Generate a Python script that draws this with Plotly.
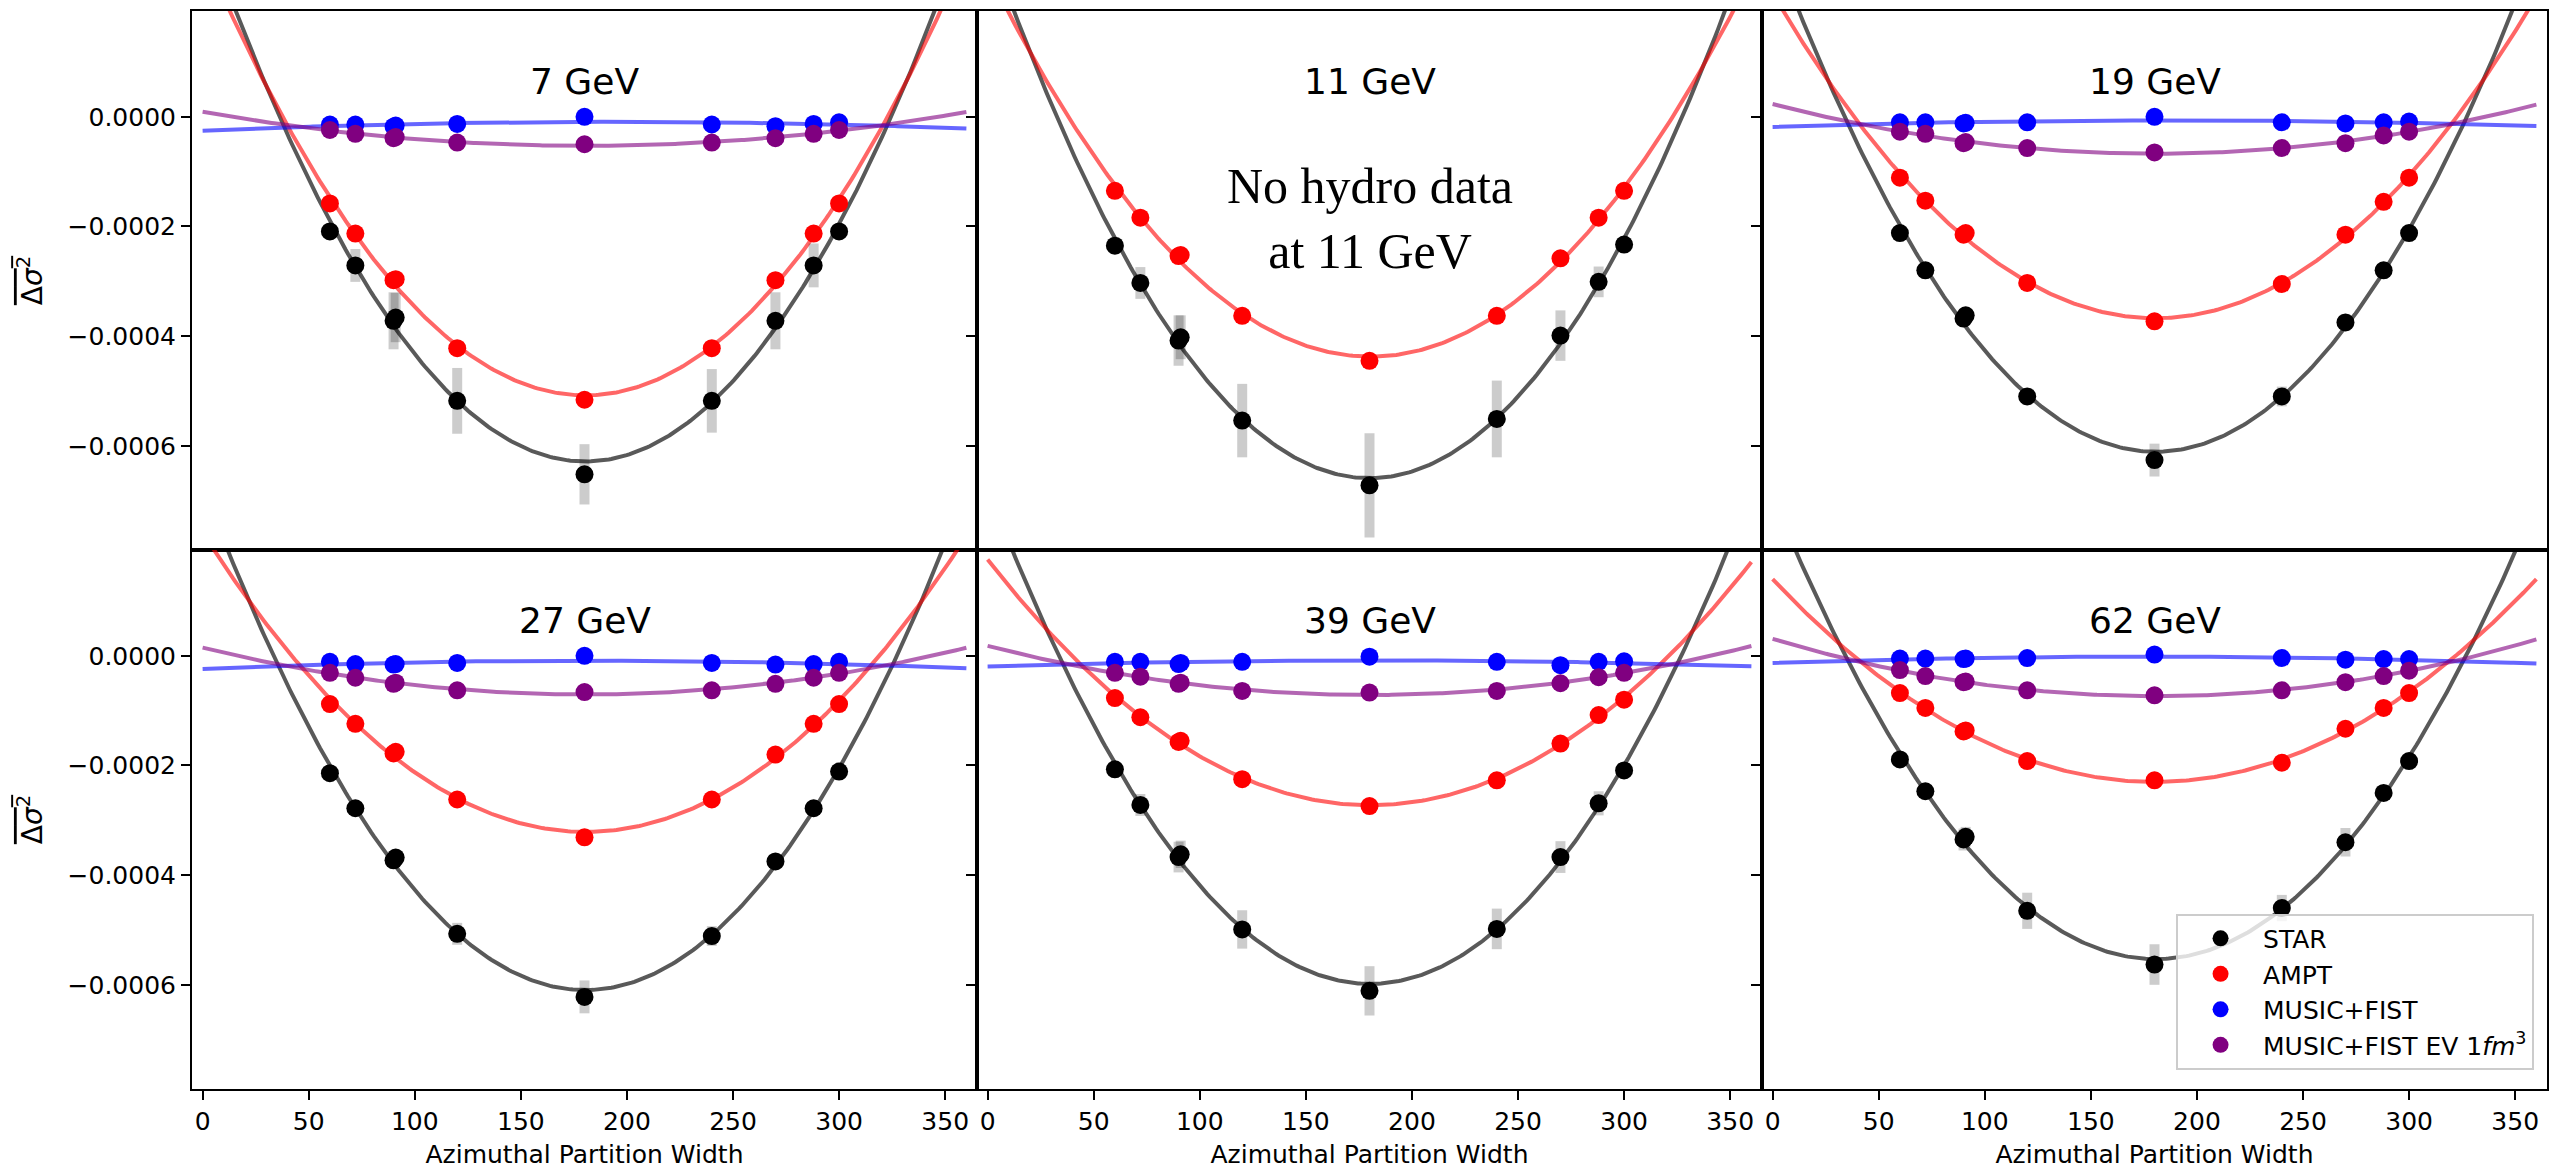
import numpy as np
import plotly.graph_objects as go
from plotly.subplots import make_subplots

# ---------------- data ----------------
energies = ["7 GeV", "11 GeV", "19 GeV", "27 GeV", "39 GeV", "62 GeV"]
widths = [60, 72, 90, 91, 120, 180, 240, 270, 288, 300]

star_7 = [-0.000209, -0.000271, -0.000372, -0.000366, -0.000518, -0.000652, -0.000518, -0.000372, -0.000271, -0.000209]
star_err_7 = [0.000012, 0.00003, 0.000052, 0.000045, 0.00006, 0.000055, 0.000058, 0.000052, 0.00004, 0.000012]
ampt_7 = [-0.000158, -0.000213, -0.000298, -0.000296, -0.000422, -0.000516, -0.000422, -0.000298, -0.000213, -0.000158]
music_7 = [-0.000014, -0.000014, -0.000018, -0.000016, -0.000013, 0.0, -0.000014, -0.000017, -0.000013, -0.00001]
ev_7 = [-0.000024, -0.000031, -0.000039, -0.000037, -0.000047, -0.00005, -0.000047, -0.000039, -0.000031, -0.000024]

star_11 = [-0.000235, -0.000303, -0.000408, -0.000402, -0.000554, -0.000672, -0.000551, -0.000399, -0.000301, -0.000233]
star_err_11 = [0.000015, 0.000029, 0.000046, 0.00004, 0.000067, 0.000095, 0.00007, 0.000046, 0.000028, 0.000012]
ampt_11 = [-0.000135, -0.000184, -0.000254, -0.000252, -0.000363, -0.000445, -0.000363, -0.000258, -0.000184, -0.000135]
music_11 = None
ev_11 = None

star_19 = [-0.000212, -0.00028, -0.000368, -0.000362, -0.00051, -0.000626, -0.00051, -0.000375, -0.00028, -0.000212]
star_err_19 = [0.000008, 0.00001, 0.000012, 0.00001, 0.000015, 0.00003, 0.000018, 0.000015, 0.000012, 0.000008]
ampt_19 = [-0.000111, -0.000153, -0.000215, -0.000212, -0.000303, -0.000373, -0.000305, -0.000215, -0.000155, -0.000111]
music_19 = [-0.00001, -0.00001, -0.000012, -0.000011, -0.00001, 0.0, -0.00001, -0.000012, -0.00001, -0.0000085]
ev_19 = [-0.000027, -0.000031, -0.000048, -0.000046, -0.000057, -0.000065, -0.000057, -0.000048, -0.000034, -0.000027]

star_27 = [-0.000214, -0.000278, -0.000373, -0.000368, -0.000507, -0.000622, -0.000511, -0.000375, -0.000278, -0.000211]
star_err_27 = [0.000008, 0.00001, 0.000012, 0.00001, 0.00002, 0.00003, 0.000018, 0.000012, 0.00001, 0.000008]
ampt_27 = [-0.000088, -0.000124, -0.000178, -0.000175, -0.000262, -0.000331, -0.000262, -0.00018, -0.000124, -0.000088]
music_27 = [-0.000011, -0.000015, -0.000016, -0.000015, -0.000013, 0.0, -0.000013, -0.000016, -0.000015, -0.000011]
ev_27 = [-0.000031, -0.00004, -0.000051, -0.000049, -0.000063, -0.000066, -0.000063, -0.000051, -0.00004, -0.000031]

star_39 = [-0.000207, -0.000272, -0.000367, -0.000362, -0.000499, -0.000611, -0.000498, -0.000367, -0.000269, -0.000209]
star_err_39 = [0.00001, 0.00002, 0.000028, 0.000025, 0.000035, 0.000045, 0.000037, 0.000029, 0.000022, 0.00001]
ampt_39 = [-0.000077, -0.000112, -0.000157, -0.000155, -0.000225, -0.000274, -0.000227, -0.00016, -0.000108, -0.00008]
music_39 = [-0.000011, -0.000011, -0.000015, -0.000013, -0.000011, -0.0000015, -0.000011, -0.000017, -0.000011, -0.00001]
ev_39 = [-0.000031, -0.000038, -0.000051, -0.000049, -0.000064, -0.000067, -0.000064, -0.00005, -0.000039, -0.000031]

star_62 = [-0.000189, -0.000247, -0.000335, -0.00033, -0.000465, -0.000563, -0.00046, -0.00034, -0.00025, -0.000192]
star_err_62 = [0.000008, 0.00001, 0.00002, 0.000018, 0.000033, 0.000037, 0.000024, 0.000026, 0.000012, 0.000008]
ampt_62 = [-0.000068, -0.000095, -0.000138, -0.000136, -0.000192, -0.000227, -0.000195, -0.000133, -0.000095, -0.000068]
music_62 = [-0.000005, -0.000005, -0.000006, -0.000005, -0.000004, 0.0000022, -0.000004, -0.000007, -0.000006, -0.000006]
ev_62 = [-0.000026, -0.000037, -0.000048, -0.000047, -0.000063, -0.000072, -0.000063, -0.000048, -0.000037, -0.000027]

y_ticks = [0.0, -0.0002, -0.0004, -0.0006]
x_ticks = [0, 50, 100, 150, 200, 250, 300, 350]
series_names = ["STAR", "AMPT", "MUSIC+FIST", "MUSIC+FIST EV 1<i>fm</i><sup>3</sup>"]
y_label = "<span style='text-decoration:overline'>Δ<i>σ</i><sup>2</sup></span>"
x_label = "Azimuthal Partition Width"
note_11 = "No hydro data<br>at 11 GeV"

panels = [
    (star_7, star_err_7, ampt_7, music_7, ev_7),
    (star_11, star_err_11, ampt_11, music_11, ev_11),
    (star_19, star_err_19, ampt_19, music_19, ev_19),
    (star_27, star_err_27, ampt_27, music_27, ev_27),
    (star_39, star_err_39, ampt_39, music_39, ev_39),
    (star_62, star_err_62, ampt_62, music_62, ev_62),
]

# ---------------- styles ----------------
marker_colors = ["black", "red", "blue", "purple"]
line_colors = ["rgba(0,0,0,0.65)", "rgba(255,0,0,0.6)", "rgba(0,0,255,0.6)", "rgba(128,0,128,0.6)"]
FONT = "DejaVu Sans"

fig = make_subplots(rows=2, cols=3, shared_xaxes=True, shared_yaxes=True,
                    horizontal_spacing=0, vertical_spacing=0)

x_fit = np.linspace(0, 360, 300)
x_arr = np.array(widths, dtype=float)

for i, (star, star_err, ampt, music, ev) in enumerate(panels):
    r, c = i // 3 + 1, i % 3 + 1
    fig.add_hline(y=0, line_color="rgba(128,128,128,0.75)", line_width=4, layer="below", row=r, col=c)
    vals = [star, ampt, music, ev]
    # fitted quadratic curves (least-squares fit of the data points)
    for k, v in enumerate(vals):
        if v is None:
            continue
        coef = np.polyfit(x_arr, np.array(v), 2)
        fig.add_trace(go.Scatter(x=x_fit, y=np.polyval(coef, x_fit), mode="lines",
                                 line=dict(color=line_colors[k], width=4),
                                 hoverinfo="skip", showlegend=False), row=r, col=c)
    # data points
    for k, v in enumerate(vals):
        if v is None:
            continue
        kw = {}
        if k == 0:
            kw["error_y"] = dict(type="data", array=star_err, color="rgba(0,0,0,0.2)",
                                 thickness=10, width=0)
        fig.add_trace(go.Scatter(x=widths, y=v, mode="markers",
                                 marker=dict(color=marker_colors[k], size=18),
                                 showlegend=False, name=series_names[k], **kw), row=r, col=c)
    fig.add_annotation(x=180, y=0.000065, text=energies[i], showarrow=False,
                       font=dict(family=FONT, size=36, color="black"),
                       xanchor="center", yanchor="middle", row=r, col=c)

# legend entries
for k in range(4):
    fig.add_trace(go.Scatter(x=[None], y=[None], mode="markers",
                             marker=dict(color=marker_colors[k], size=16),
                             name=series_names[k], showlegend=True), row=2, col=3)

fig.add_annotation(x=180, y=-0.000185, text=note_11, showarrow=False,
                   font=dict(family="Liberation Serif", size=50, color="black"),
                   xanchor="center", yanchor="middle", row=1, col=2)

for yc in [0.75, 0.25]:
    fig.add_annotation(xref="paper", yref="paper", x=-0.0685, y=yc,
                       text=y_label, textangle=-90, showarrow=False,
                       font=dict(family=FONT, size=28, color="black"),
                       xanchor="center", yanchor="middle")

fig.update_xaxes(range=[-5, 365], tickvals=x_ticks, ticks="outside", ticklen=9, tickwidth=2,
                 tickcolor="black", showline=True, linecolor="black", linewidth=2, mirror=True,
                 showgrid=False, zeroline=False, automargin=False,
                 tickfont=dict(family=FONT, size=25, color="black"))
fig.update_xaxes(ticks="", row=1)
for c in range(1, 4):
    fig.update_xaxes(title=dict(text=x_label, standoff=30,
                                font=dict(family=FONT, size=25, color="black")), row=2, col=c)

fig.update_yaxes(range=[-0.00079, 0.000193], tickvals=y_ticks, tickformat=".4f",
                 ticks="outside", ticklen=9, tickwidth=2, tickcolor="black",
                 showline=True, linecolor="black", linewidth=2, mirror=True,
                 showgrid=False, zeroline=False, automargin=False,
                 tickfont=dict(family=FONT, size=25, color="black"))

fig.update_layout(
    width=2550, height=1169,
    margin=dict(l=192, r=3, t=11, b=80),
    paper_bgcolor="white", plot_bgcolor="white",
    font=dict(family=FONT, size=25, color="black"),
    legend=dict(x=0.9945, y=0.018, xanchor="right", yanchor="bottom",
                bgcolor="rgba(255,255,255,0.8)", bordercolor="#cccccc", borderwidth=2,
                font=dict(family=FONT, size=25, color="black"),
                itemwidth=75, tracegroupgap=0),
)

fig.write_html("out.html")
